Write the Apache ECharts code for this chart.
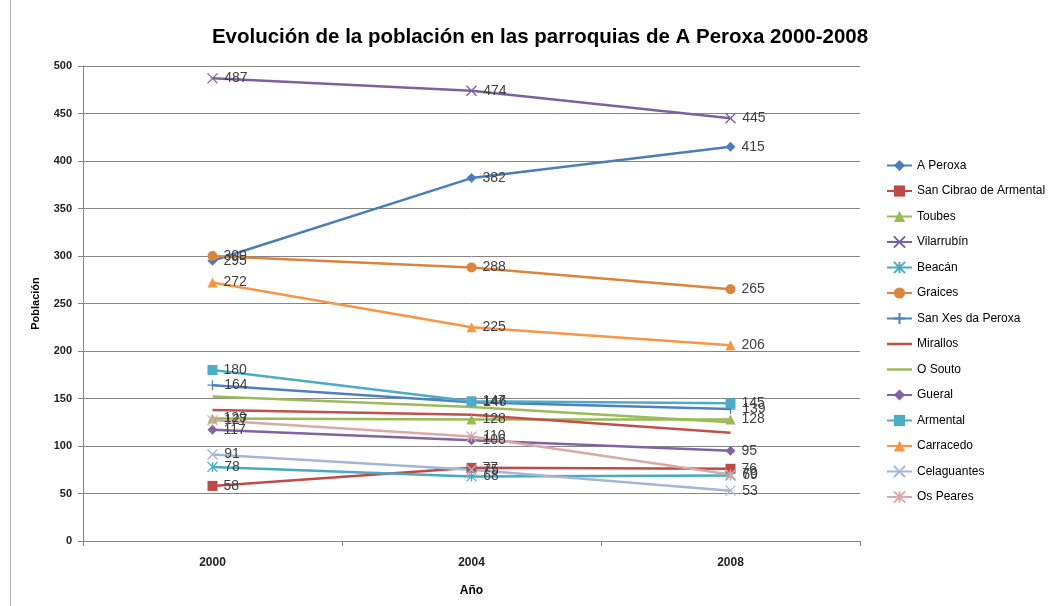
<!DOCTYPE html>
<html>
<head>
<meta charset="utf-8">
<script src="https://cdn.jsdelivr.net/npm/echarts@6/dist/echarts.min.js"></script>
<style>
  html, body { margin: 0; padding: 0; background: #fff; }
  #chart { width: 1053px; height: 606px; }
</style>
</head>
<body>
<div id="chart"></div>
<script>
// Years on the x axis
var years = ["2000", "2004", "2008"];

// Population per parish
var aPeroxa = [295, 382, 415];
var sanCibrao = [58, 77, 76];
var toubes = [129, 128, 128];
var vilarrubin = [487, 474, 445];
var beacan = [78, 68, 69];
var graices = [300, 288, 265];
var sanXes = [164, 146, 139];
var mirallos = [138, 133, 114];
var oSouto = [152, 141, 125];
var gueral = [117, 106, 95];
var armental = [180, 147, 145];
var carracedo = [272, 225, 206];
var celaguantes = [91, 75, 53];
var osPeares = [127, 110, 70];

// simple stroked marker shapes (Excel style)
var crossPath = "path://M0 0 L10 10 M10 0 L0 10";
var starPath = "path://M0 0 L10 10 M10 0 L0 10 M5 0 L5 10";
var plusPath = "path://M5 0 L5 10 M0 5 L10 5";
// plain line icon for series without markers
var lineIcon = "path://M0 0 L30 0 L30 3 L0 3 Z";

function serie(name, data, color, symbol, stroked) {
  return {
    name: name,
    type: "line",
    data: data,
    symbol: symbol,
    symbolSize: 10,
    showSymbol: symbol !== "none",
    lineStyle: { color: color, width: 2.5 },
    itemStyle: stroked
      ? { color: "rgba(0,0,0,0)", borderColor: color, borderWidth: 1.3 }
      : { color: color, borderWidth: 0 },
    label: {
      show: true,
      position: "right",
      distance: 6,
      color: "#404040",
      fontSize: 14,
      fontFamily: "Liberation Sans",
    },
    emphasis: { disabled: true },
    animation: false,
  };
}

var chart = echarts.init(document.getElementById("chart"));
var option = {
  backgroundColor: "#fff",
  title: {
    text: "Evolución de la población en las parroquias de A Peroxa 2000-2008",
    left: 535,
    textAlign: "center",
    top: 22,
    textStyle: {
      fontFamily: "Liberation Sans",
      fontSize: 20.5,
      fontWeight: "bold",
      color: "#000",
    },
  },
  graphic: [
    {
      // outer chart border
      type: "line",
      shape: { x1: 10.5, y1: 0, x2: 10.5, y2: 606 },
      style: { stroke: "#b0b0b0", lineWidth: 1 },
    },
  ],
  legend: {
    orient: "vertical",
    left: 881,
    top: 153,
    itemWidth: 25,
    itemHeight: 14,
    itemGap: 10.5,
    textStyle: { fontFamily: "Liberation Sans", fontSize: 12, color: "#000", lineHeight: 15 },
    data: [
      "A Peroxa", "San Cibrao de Armental", "Toubes", "Vilarrubín", "Beacán",
      "Graices", "San Xes da Peroxa",
      { name: "Mirallos", icon: lineIcon, itemStyle: { color: "#C0504D" } },
      { name: "O Souto", icon: lineIcon, itemStyle: { color: "#9BBB59" } },
      "Gueral", "Armental", "Carracedo", "Celaguantes", "Os Peares",
    ],
  },
  grid: { left: 83, right: 193, top: 66, bottom: 65 },
  xAxis: {
    type: "category",
    data: years,
    boundaryGap: true,
    name: "Año",
    nameLocation: "middle",
    nameGap: 44,
    nameTextStyle: { fontFamily: "Liberation Sans", fontSize: 12, fontWeight: "bold", color: "#000" },
    axisLine: { lineStyle: { color: "#868686" } },
    axisTick: { show: true, length: 5, lineStyle: { color: "#868686" } },
    axisLabel: { fontFamily: "Liberation Sans", fontSize: 12, fontWeight: "bold", color: "#222", margin: 16 },
  },
  yAxis: {
    type: "value",
    min: 0,
    max: 500,
    interval: 50,
    name: "Población",
    nameLocation: "middle",
    nameGap: 42,
    nameTextStyle: { fontFamily: "Liberation Sans", fontSize: 11, fontWeight: "bold", color: "#000" },
    axisLine: { show: true, lineStyle: { color: "#868686" } },
    axisTick: { show: true, length: 5, lineStyle: { color: "#868686" } },
    splitLine: { lineStyle: { color: "#868686" } },
    axisLabel: { fontFamily: "Liberation Sans", fontSize: 11, fontWeight: "bold", color: "#222", margin: 11 },
  },
  series: [
    serie("A Peroxa", aPeroxa, "#4A7EBB", "diamond"),
    serie("San Cibrao de Armental", sanCibrao, "#BE4B48", "rect"),
    serie("Toubes", toubes, "#98B954", "triangle"),
    serie("Vilarrubín", vilarrubin, "#7D60A0", crossPath, true),
    serie("Beacán", beacan, "#46AAC5", starPath, true),
    serie("Graices", graices, "#DB843D", "circle"),
    serie("San Xes da Peroxa", sanXes, "#4F81BD", plusPath, true),
    serie("Mirallos", mirallos, "#C0504D", "none"),
    serie("O Souto", oSouto, "#9BBB59", "none"),
    serie("Gueral", gueral, "#8064A2", "diamond"),
    serie("Armental", armental, "#4BACC6", "rect"),
    serie("Carracedo", carracedo, "#F79646", "triangle"),
    serie("Celaguantes", celaguantes, "#A5B6D4", crossPath, true),
    serie("Os Peares", osPeares, "#D9A9A8", starPath, true),
  ],
};
chart.setOption(option);
</script>
</body>
</html>
